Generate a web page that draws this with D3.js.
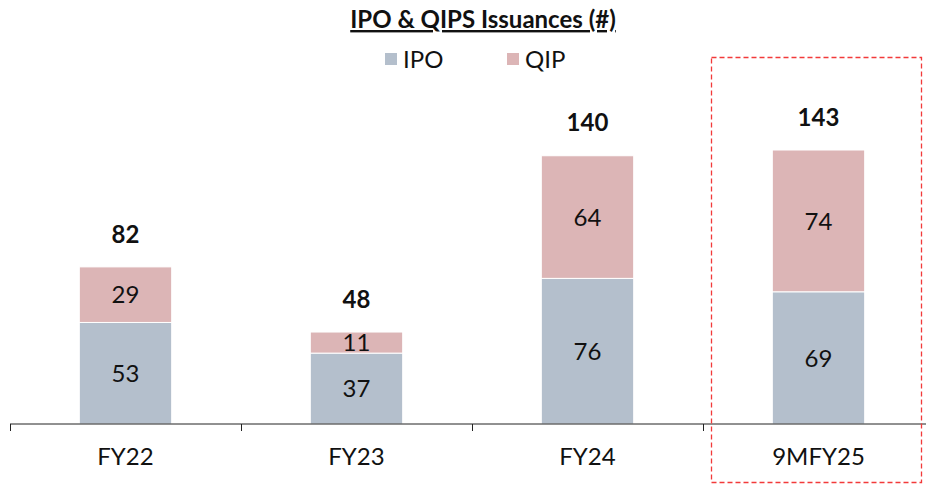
<!DOCTYPE html>
<html>
<head>
<meta charset="utf-8">
<script src="https://cdn.jsdelivr.net/npm/d3@7"></script>
<style>
  body { margin: 0; background: #fff; }
  svg { font-family: Lato, "Open Sans", sans-serif; }
</style>
</head>
<body>
<div id="chart"></div>
<script>
const categories = ["FY22", "FY23", "FY24", "9MFY25"];
const ipo = [53, 37, 76, 69];
const qip = [29, 11, 64, 74];
const totals = [82, 48, 140, 143];
const seriesNames = ["IPO", "QIP"];
const colors = ["#b4bfcc", "#dcb5b6"];

const width = 926, height = 484;
const svg = d3.select("#chart").append("svg")
    .attr("width", width)
    .attr("height", height);

const x = d3.scaleBand()
    .domain(categories)
    .range([10, 934])
    .paddingInner(0.6)
    .paddingOuter(0.3);

const y = d3.scaleLinear()
    .domain([0, 143])
    .range([424, 150]);

const rows = categories.map((c, i) => ({cat: c, IPO: ipo[i], QIP: qip[i], total: totals[i]}));
const stack = d3.stack().keys(seriesNames)(rows);

// bars
const groups = svg.append("g")
    .selectAll("g")
    .data(stack)
    .join("g")
    .attr("fill", (d, i) => colors[i]);

groups.selectAll("rect")
    .data(d => d)
    .join("rect")
    .attr("x", d => x(d.data.cat))
    .attr("width", x.bandwidth())
    .attr("y", d => y(d[1]))
    .attr("height", d => y(d[0]) - y(d[1]))
    .attr("stroke", "#fff")
    .attr("stroke-width", 1);

// segment labels
groups.selectAll("text")
    .data(d => d)
    .join("text")
    .attr("x", d => x(d.data.cat) + x.bandwidth() / 2)
    .attr("y", d => (y(d[0]) + y(d[1])) / 2)
    .attr("dy", "0.36em")
    .attr("text-anchor", "middle")
    .attr("fill", "#111")
    .style("font-size", "24px")
    .text(d => d[1] - d[0]);

// totals
svg.append("g")
    .selectAll("text")
    .data(rows)
    .join("text")
    .attr("x", d => x(d.cat) + x.bandwidth() / 2)
    .attr("y", d => y(d.total) - 33)
    .attr("dy", "0.36em")
    .attr("text-anchor", "middle")
    .style("font-size", "24px")
    .style("font-weight", "bold")
    .attr("fill", "#111")
    .text(d => d.total);

// x axis, ticks on band boundaries
const gap = (x.step() - x.bandwidth()) / 2;
const axis = svg.append("g");
axis.append("line")
    .attr("x1", 10).attr("x2", width)
    .attr("y1", 424).attr("y2", 424)
    .attr("stroke", "#222").attr("stroke-width", 1);
axis.selectAll("line.tick")
    .data(categories)
    .join("line")
    .attr("class", "tick")
    .attr("x1", d => Math.round(x(d) - gap) + 0.5)
    .attr("x2", d => Math.round(x(d) - gap) + 0.5)
    .attr("y1", 424).attr("y2", 431)
    .attr("stroke", "#222");
axis.selectAll("text")
    .data(categories)
    .join("text")
    .attr("x", d => x(d) + x.bandwidth() / 2)
    .attr("y", 456)
    .attr("dy", "0.36em")
    .attr("text-anchor", "middle")
    .style("font-size", "24px")
    .attr("fill", "#111")
    .text(d => d);

// title
svg.append("text")
    .attr("x", 483).attr("y", 28)
    .attr("text-anchor", "middle")
    .style("font-size", "24px")
    .style("font-weight", "bold")
    .style("text-decoration", "underline")
    .attr("fill", "#111")
    .text("IPO & QIPS Issuances (#)");

// legend
const legend = svg.append("g")
    .selectAll("g")
    .data(seriesNames)
    .join("g")
    .attr("transform", (d, i) => `translate(${385 + i * 122},0)`);
legend.append("rect")
    .attr("x", 0).attr("y", 53)
    .attr("width", 12).attr("height", 12)
    .attr("fill", (d, i) => colors[i]);
legend.append("text")
    .attr("x", 18).attr("y", 59)
    .attr("dy", "0.36em")
    .style("font-size", "24px")
    .attr("fill", "#111")
    .text(d => d);

// highlight box around last category
svg.append("rect")
    .attr("x", 711.5).attr("y", 57.5)
    .attr("width", 210).attr("height", 425)
    .attr("fill", "none")
    .attr("stroke", "#f23a3a")
    .attr("stroke-width", 1.3)
    .attr("stroke-dasharray", "5,3");
</script>
</body>
</html>
